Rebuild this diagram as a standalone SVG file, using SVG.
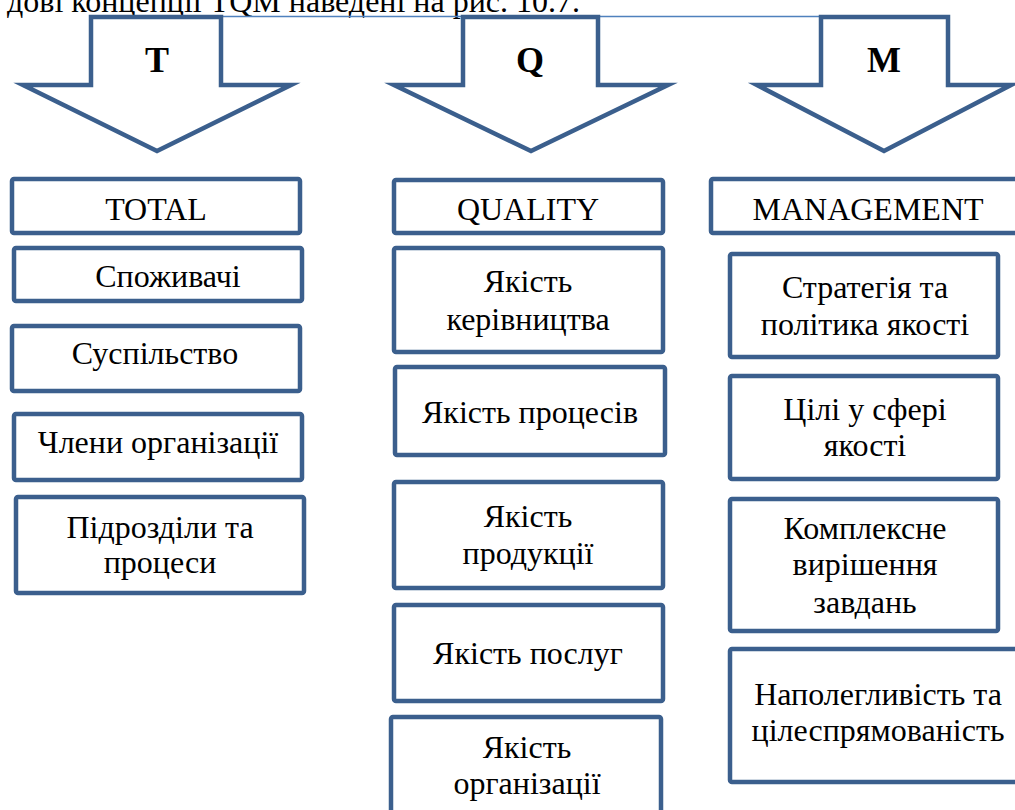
<svg xmlns="http://www.w3.org/2000/svg" width="1015" height="810" viewBox="0 0 1015 810">
  <style>
    .box { fill: #ffffff; stroke: #3b5f8d; stroke-width: 4.5; }
    .arrow { fill: #ffffff; stroke: #3b5f8d; stroke-width: 4.5; stroke-linejoin: miter; stroke-miterlimit: 10; }
    .lbl { font-family: "Liberation Serif", "Times New Roman", serif; font-size: 32px; fill: #000000; text-anchor: middle; }
    .big { font-family: "Liberation Serif", "Times New Roman", serif; font-size: 36px; font-weight: bold; fill: #000000; text-anchor: middle; }
    .caption { font-family: "Liberation Serif", "Times New Roman", serif; font-size: 32px; fill: #000000; }
  </style>
  <rect width="1015" height="810" fill="#ffffff"/>

  <!-- line of text running into the top edge -->
  <text class="caption" x="580" y="12" text-anchor="end">дові концепції TQM наведені на рис. 10.7.</text>

  <!-- thin rule joining the arrow tops -->
  <g id="connectors">
    <line x1="222" y1="16.5" x2="822" y2="16.5" stroke="#4f81bd" stroke-width="1.5"/>
  </g>

  <!-- block arrows -->
  <g id="arrow-t">
    <polygon class="arrow" points="91,17 221,17 221,85 291,85 157,151 23,85 91,85"/>
    <text class="big" x="157" y="72">T</text>
  </g>
  <g id="arrow-q">
    <polygon class="arrow" points="463,17 598,17 598,85 668,85 531,151 394,85 463,85"/>
    <text class="big" x="530" y="72">Q</text>
  </g>
  <g id="arrow-m">
    <polygon class="arrow" points="821,17 948,17 948,85 1011,85 884,151 757,85 821,85"/>
    <text class="big" x="884" y="72">M</text>
  </g>

  <!-- TOTAL column -->
  <g id="total">
    <rect class="box" x="12" y="179" width="288" height="54" rx="2"/>
    <text class="lbl" x="156" y="220">TOTAL</text>
  </g>
  <g id="spozhyvachi">
    <rect class="box" x="14" y="248" width="288" height="53" rx="2"/>
    <text class="lbl" x="168" y="287">Споживачі</text>
  </g>
  <g id="suspilstvo">
    <rect class="box" x="12" y="326" width="288" height="65" rx="2"/>
    <text class="lbl" x="155" y="364">Суспільство</text>
  </g>
  <g id="chleny">
    <rect class="box" x="14" y="414" width="288" height="66" rx="2"/>
    <text class="lbl" x="158" y="453">Члени організації</text>
  </g>
  <g id="pidrozdily">
    <rect class="box" x="16" y="497" width="288" height="96" rx="2"/>
    <text class="lbl" x="160" y="538">Підрозділи та</text>
    <text class="lbl" x="160" y="573">процеси</text>
  </g>

  <!-- QUALITY column -->
  <g id="quality">
    <rect class="box" x="394" y="180" width="269" height="53" rx="2"/>
    <text class="lbl" x="528" y="220">QUALITY</text>
  </g>
  <g id="yakist-kerivnytstva">
    <rect class="box" x="394" y="248" width="269" height="104" rx="2"/>
    <text class="lbl" x="528" y="292">Якість</text>
    <text class="lbl" x="528" y="330">керівництва</text>
  </g>
  <g id="yakist-protsesiv">
    <rect class="box" x="395" y="367" width="270" height="88" rx="2"/>
    <text class="lbl" x="530" y="423">Якість процесів</text>
  </g>
  <g id="yakist-produktsii">
    <rect class="box" x="394" y="482" width="269" height="106" rx="2"/>
    <text class="lbl" x="528" y="527">Якість</text>
    <text class="lbl" x="528" y="564">продукції</text>
  </g>
  <g id="yakist-posluh">
    <rect class="box" x="394" y="605" width="269" height="96" rx="2"/>
    <text class="lbl" x="528" y="664">Якість послуг</text>
  </g>
  <g id="yakist-orhanizatsii">
    <rect class="box" x="391" y="717" width="270" height="110" rx="2"/>
    <text class="lbl" x="527" y="758">Якість</text>
    <text class="lbl" x="527" y="794">організації</text>
  </g>

  <!-- MANAGEMENT column -->
  <g id="management">
    <rect class="box" x="711" y="179" width="330" height="54" rx="2"/>
    <text class="lbl" x="868" y="220">MANAGEMENT</text>
  </g>
  <g id="stratehiia">
    <rect class="box" x="730" y="254" width="268" height="103" rx="2"/>
    <text class="lbl" x="865" y="298">Стратегія та</text>
    <text class="lbl" x="865" y="335">політика якості</text>
  </g>
  <g id="tsili">
    <rect class="box" x="730" y="376" width="268" height="103" rx="2"/>
    <text class="lbl" x="865" y="420">Цілі у сфері</text>
    <text class="lbl" x="865" y="456">якості</text>
  </g>
  <g id="kompleksne">
    <rect class="box" x="730" y="499" width="268" height="132" rx="2"/>
    <text class="lbl" x="865" y="539">Комплексне</text>
    <text class="lbl" x="865" y="575">вирішення</text>
    <text class="lbl" x="865" y="613">завдань</text>
  </g>
  <g id="napolehlyvist">
    <rect class="box" x="730" y="649" width="330" height="133" rx="2"/>
    <text class="lbl" x="878" y="705">Наполегливість та</text>
    <text class="lbl" x="878" y="741">цілеспрямованість</text>
  </g>
</svg>
